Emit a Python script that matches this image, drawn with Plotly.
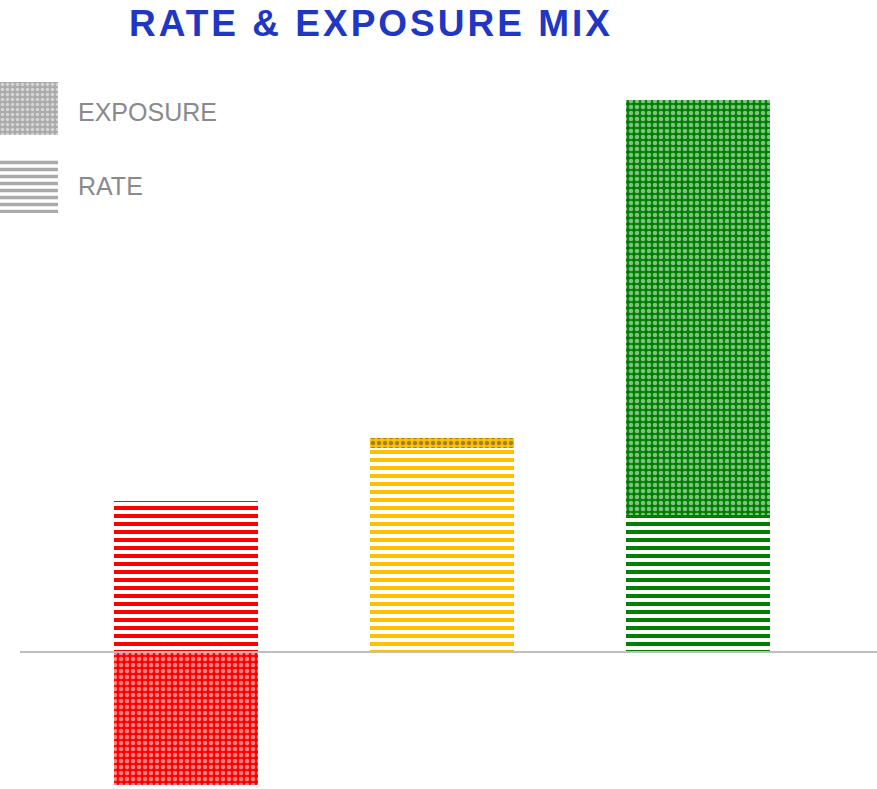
import plotly.graph_objects as go

# Data
categories = ["A", "B", "C"]
colors = ["#ff0000", "#ffc000", "#008000"]
rate = [1.51, 2.04, 1.37]
exposure = [-1.33, 0.10, 4.15]
legend_names = ["EXPOSURE", "RATE"]
legend_color = "#aaaaaa"

W, H = 877, 789
x0_px, x1_px = 58, 826          # main plot horizontal extent
top_px = 80                      # main plot top

rate_pattern = dict(shape="-", size=8, solidity=0.5, fillmode="replace", bgcolor="white")
expo_pattern = dict(shape=".", size=6, solidity=0.45, fillmode="overlay", fgcolor="white")

fig = go.Figure()

fig.add_trace(go.Bar(
    x=categories, y=rate, name="RATE", width=0.5625,
    marker=dict(color=colors, line=dict(width=0),
                pattern=dict(rate_pattern, fgcolor=colors)),
    showlegend=False, xaxis="x", yaxis="y",
))
fig.add_trace(go.Bar(
    x=categories, y=exposure, name="EXPOSURE", width=0.5625,
    marker=dict(color=colors, line=dict(width=0), pattern=expo_pattern),
    showlegend=False, xaxis="x", yaxis="y",
))

# Legend swatches drawn as bars on their own small axes
fig.add_trace(go.Bar(
    x=[1], y=[1], orientation="h", width=0.68,
    marker=dict(color=legend_color, line=dict(width=0),
                pattern=dict(shape=".", size=5, solidity=0.4, fillmode="overlay", fgcolor="white")),
    showlegend=False, xaxis="x2", yaxis="y2", hoverinfo="skip",
))
fig.add_trace(go.Bar(
    x=[1], y=[0], orientation="h", width=0.68,
    marker=dict(color=legend_color, line=dict(width=0),
                pattern=dict(shape="-", size=7, solidity=0.5, fillmode="replace",
                             bgcolor="white", fgcolor=legend_color)),
    showlegend=False, xaxis="x2", yaxis="y2", hoverinfo="skip",
))
for name, yv, ys in zip(legend_names, [1, 0], [-3, 0]):
    fig.add_annotation(x=1, y=yv, xref="x2", yref="y2", text=name, showarrow=False,
                       xanchor="left", xshift=18, yshift=ys,
                       font=dict(family="Liberation Sans, Arial", size=25, color="#8a8a8a"))

px_per_unit = 100.0
zero_px = 652
y_top = (zero_px - top_px) / px_per_unit
y_bot = -(H - zero_px) / px_per_unit

fig.update_layout(
    width=W, height=H,
    margin=dict(l=0, r=0, t=0, b=0),
    paper_bgcolor="white", plot_bgcolor="white",
    barmode="relative", bargap=0,
    title=dict(text='<span style="letter-spacing:3px"><b>RATE &amp; EXPOSURE MIX</b></span>',
               x=371 / W, xanchor="center",
               y=1 - 23 / H, yanchor="middle", yref="container",
               font=dict(family="Liberation Sans, Arial", size=37, color="#2036c4")),
    xaxis=dict(domain=[x0_px / W, x1_px / W], range=[-0.5, 2.5], visible=False),
    yaxis=dict(domain=[0, (H - top_px) / H], range=[y_bot, y_top], visible=False),
    xaxis2=dict(domain=[0, 58 / W], range=[0, 1], visible=False),
    yaxis2=dict(domain=[(H - 213) / H, (H - 82) / H], range=[-0.34, 1.34], visible=False,
                anchor="x2"),
    shapes=[dict(type="line", xref="paper", yref="y", x0=20 / W, x1=1, y0=0, y1=0,
                 line=dict(color="#bfbfbf", width=2))],
    font=dict(family="Liberation Sans, Arial"),
)

fig.write_html("out.html")
